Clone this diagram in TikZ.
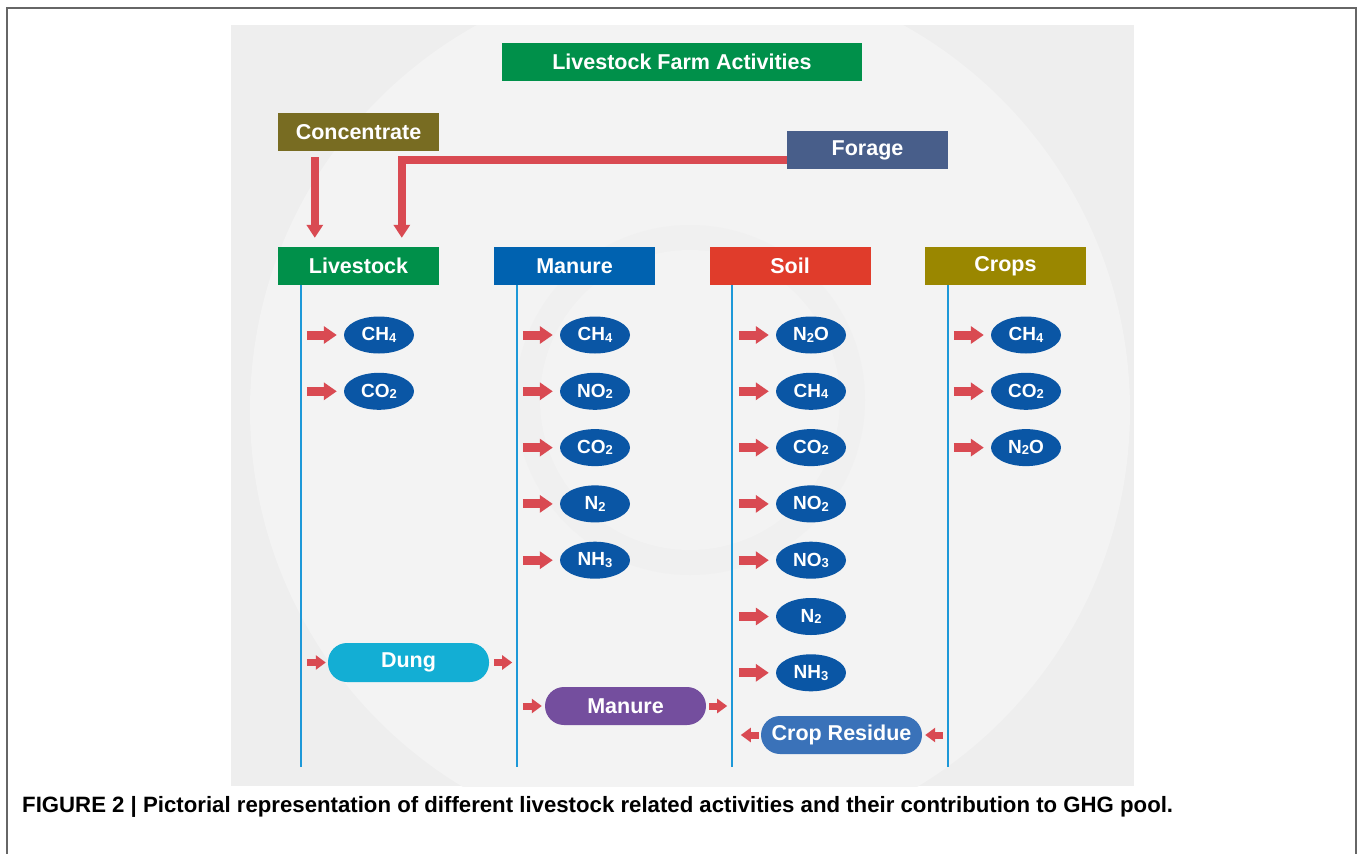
\documentclass[tikz,border=0pt]{standalone}
\usepackage{fontspec}
\setmainfont{Liberation Sans}
\usetikzlibrary{arrows.meta,calc,shapes.geometric}
\definecolor{titlegreen}{HTML}{00904A}
\definecolor{concolive}{HTML}{786C22}
\definecolor{forageblue}{HTML}{485E8A}
\definecolor{manblue}{HTML}{0062B0}
\definecolor{soilred}{HTML}{E03C2B}
\definecolor{cropolive}{HTML}{9A8700}
\definecolor{gasblue}{HTML}{0A56A5}
\definecolor{dungcyan}{HTML}{13AED4}
\definecolor{manpurple}{HTML}{744E9E}
\definecolor{resblue}{HTML}{3A72B9}
\definecolor{arrred}{HTML}{D94A52}
\definecolor{vlineblue}{HTML}{1D98D8}
\definecolor{panelgray}{HTML}{EEEEEE}
\definecolor{panellight}{HTML}{F3F3F3}
\definecolor{panelring}{HTML}{F0F0F0}
\definecolor{framegray}{HTML}{666666}
\newcommand\gsub[1]{\raisebox{-1.5pt}{\fontsize{13}{13}\selectfont #1}}
\begin{document}
\begin{tikzpicture}[x=1pt,y=-1pt,
  hdr/.style={rectangle, minimum width=161, minimum height=38, inner sep=0pt, text=white,
    font=\bfseries\fontsize{21.5}{24}\selectfont},
  gas/.style={ellipse, fill=gasblue, minimum width=70, minimum height=37, inner sep=0pt, text=white,
    font=\bfseries\fontsize{19}{21}\selectfont},
  pill/.style={rectangle, rounded corners=19pt, minimum width=161, minimum height=38, inner sep=0pt,
    text=white, font=\bfseries\fontsize{21.5}{24}\selectfont},
  bigarr/.style={draw=arrred, line width=8pt, line join=miter, -{Triangle[width=16pt,length=13pt]}},
  garr/.style={draw=arrred, line width=9pt, -{Triangle[width=17pt,length=13pt]}},
  parr/.style={draw=arrred, line width=7pt, -{Triangle[width=14pt,length=10pt]}},
  vline/.style={draw=vlineblue, line width=2pt}
]
\useasboundingbox (0,0) rectangle (1358,854);
\fill[white] (0,0) rectangle (1358,854);
\draw[framegray, line width=1.6pt] (7,856) -- (7,8) -- (1356,8) -- (1356,856);
\begin{scope}
  \clip (231,25) rectangle (1134,786);
  \fill[panelgray] (231,25) rectangle (1134,786);
  \fill[panellight] (690,410) circle (440pt);
  \fill[panelring] (690,400) circle (175pt);
  \fill[panellight] (690,400) circle (150pt);
\end{scope}

% headers
\node[hdr, fill=titlegreen, minimum width=360] (title) at (682,62) {Livestock Farm Activities};
\node[hdr, fill=concolive] (conc) at (358.5,132) {Concentrate};
\node[hdr, fill=forageblue] (forage) at (867.5,150) {Forage};
\node[hdr, fill=titlegreen] (live) at (358.5,266) {Livestock};
\node[hdr, fill=manblue] (man) at (574.5,266) {Manure};
\node[hdr, fill=soilred] (soil) at (790,266) {Soil};
\node[hdr, fill=cropolive] (crops) at (1005.5,266) {Crops};

% feed arrows
\coordinate (concout) at ($(conc.south west)+(37,6)$);
\coordinate (liveinA) at ($(live.north west)+(37,-9)$);
\coordinate (liveinB) at ($(live.north west)+(124,-9)$);
\coordinate (forout) at ($(forage.south west)+(0,-9)$);
\draw[bigarr] (concout) -- (liveinA);
\draw[bigarr] (forout) -| (liveinB);

% vertical lines
\foreach \h/\c in {live/L, man/M, soil/S, crops/C}{
  \coordinate (\c top) at ($(\h.south west)+(23,0)$);
  \coordinate (\c bot) at ($(\h.south west)+(23,482)$);
  \draw[vline] (\c top) -- (\c bot);
}

% gas ellipses
\foreach \c/\lx/\gl in {
  L/301/{CH\gsub{4},CO\gsub{2}},
  M/517/{CH\gsub{4},NO\gsub{2},CO\gsub{2},N\gsub{2},NH\gsub{3}},
  S/733/{N\gsub{2}O,CH\gsub{4},CO\gsub{2},NO\gsub{2},NO\gsub{3},N\gsub{2},NH\gsub{3}},
  C/948/{CH\gsub{4},CO\gsub{2},N\gsub{2}O}}{
  \foreach \g [count=\i] in \gl {
    \node[gas] (\c\i) at ({\lx+78},{335+56.3*(\i-1)}) {\g};
    \coordinate (\c\i s) at ($(\c\i.west)+(-37,0)$);
    \draw[garr, shorten >=7pt] (\c\i s) -- (\c\i);
  }
}

% pills
\node[pill, fill=dungcyan, minimum height=39] (dung) at (408.5,662.5) {Dung};
\node[pill, fill=manpurple] (manpill) at (625.5,706) {Manure};
\node[pill, fill=resblue] (res) at (841.5,735) {Crop Residue};

\coordinate (dungin) at ($(dung.west)+(-21,0)$);
\coordinate (dungout) at ($(dung.east)+(23,0)$);
\draw[parr, shorten >=2pt] (dungin) -- (dung);
\draw[parr, shorten <=5pt] (dung) -- (dungout);

\coordinate (manin) at ($(manpill.west)+(-22,0)$);
\coordinate (manout) at ($(manpill.east)+(21,0)$);
\draw[parr, shorten >=3pt] (manin) -- (manpill);
\draw[parr, shorten <=3pt] (manpill) -- (manout);

\coordinate (resout) at ($(res.west)+(-20,0)$);
\coordinate (resin) at ($(res.east)+(21,0)$);
\draw[parr, shorten <=2pt] (res) -- (resout);
\draw[parr, shorten >=3pt] (resin) -- (res);

% caption
\node[anchor=base west, inner sep=0pt, font=\bfseries\fontsize{22.2}{24}\selectfont] (cap) at (22,812)
  {FIGURE 2 | Pictorial representation of different livestock related activities and their contribution to GHG pool.};
\end{tikzpicture}
\end{document}
